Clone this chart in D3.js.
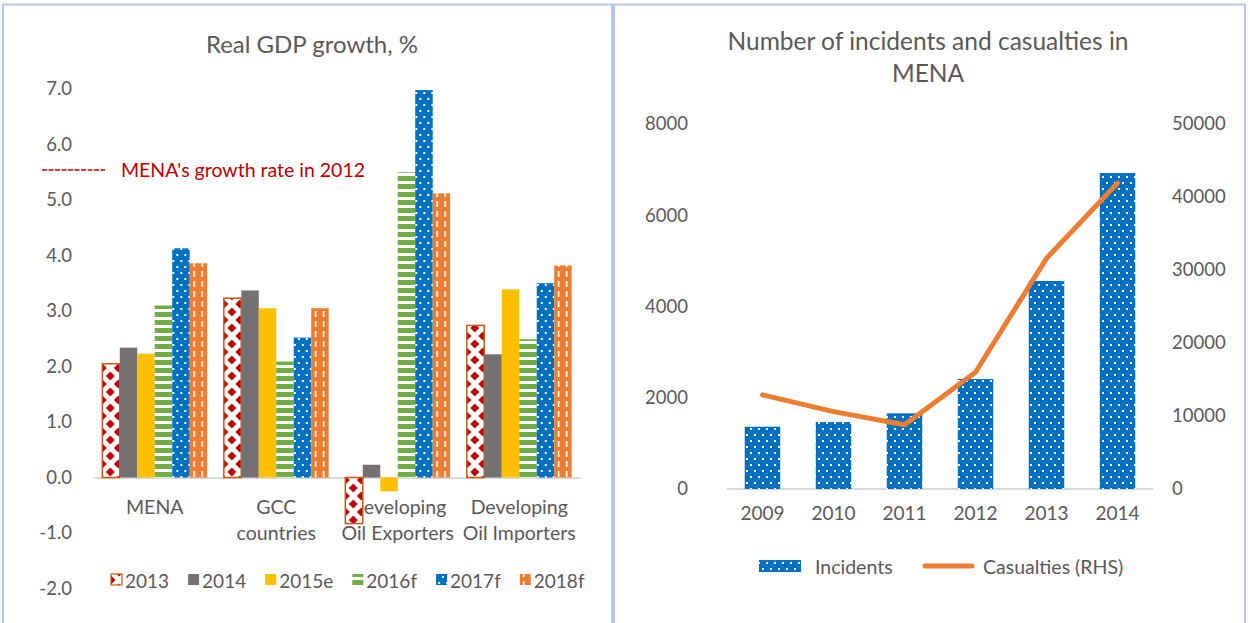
<!DOCTYPE html>
<html>
<head>
<meta charset="utf-8">
<script src="https://cdn.jsdelivr.net/npm/d3@7"></script>
<style>
  body { margin: 0; background: #fff; }
  svg { display: block; }
  text { font-family: Lato, "Open Sans", sans-serif; fill: #595959; }
</style>
</head>
<body>
<svg id="chart" width="1250" height="623"></svg>
<script>
// ---- Real GDP growth (%) ----
const gdpRegions = ["MENA", "GCC countries", "Developing Oil Exporters", "Developing Oil Importers"];
const gdpRegionLines = [["MENA"], ["GCC", "countries"], ["Developing", "Oil Exporters"], ["Developing", "Oil Importers"]];
const gdpYears = ["2013", "2014", "2015e", "2016f", "2017f", "2018f"];
const gdp2013 = [2.05, 3.23, -0.83, 2.74];
const gdp2014 = [2.34, 3.37, 0.23, 2.22];
const gdp2015e = [2.23, 3.05, -0.25, 3.39];
const gdp2016f = [3.10, 2.09, 5.50, 2.49];
const gdp2017f = [4.13, 2.52, 6.98, 3.50];
const gdp2018f = [3.86, 3.05, 5.12, 3.82];
const gdpTicks = [-2, -1, 0, 1, 2, 3, 4, 5, 6, 7];

// ---- Incidents and casualties in MENA ----
const conflictYears = ["2009", "2010", "2011", "2012", "2013", "2014"];
const incidents = [1365, 1468, 1658, 2410, 4560, 6925];
const casualties = [12900, 10600, 8800, 16000, 31600, 41900];
const incidentTicks = [0, 2000, 4000, 6000, 8000];
const casualtyTicks = [0, 10000, 20000, 30000, 40000, 50000];

const svg = d3.select("#chart");
const defs = svg.append("defs");

// Fill patterns
function pattern(id, w, h, bg, draw) {
  const p = defs.append("pattern").attr("id", id)
    .attr("patternUnits", "userSpaceOnUse").attr("width", w).attr("height", h);
  p.append("rect").attr("width", w).attr("height", h).attr("fill", bg);
  draw(p);
}
// red diamond lattice on white
pattern("pDiamond", 16, 16, "#fff", p => {
  const d = (cx, cy) => `M${cx},${cy - 4.5}L${cx + 4.5},${cy}L${cx},${cy + 4.5}L${cx - 4.5},${cy}Z`;
  [[8, 8], [0, 0], [16, 0], [0, 16], [16, 16]].forEach(([cx, cy]) =>
    p.append("path").attr("d", d(cx, cy)).attr("fill", "#c00000"));
});
// green horizontal stripes
pattern("pStripe", 8, 8, "#fff", p => {
  p.append("rect").attr("y", 0).attr("width", 8).attr("height", 5).attr("fill", "#70ad47");
});
// blue with white dots
pattern("pDots", 8, 12, "#0070c0", p => {
  p.append("rect").attr("x", 2).attr("y", 2).attr("width", 2).attr("height", 2).attr("fill", "#fff");
  p.append("rect").attr("x", 6).attr("y", 8).attr("width", 2).attr("height", 2).attr("fill", "#fff");
});
// orange with white dashes
pattern("pDash", 8, 10, "#ed7d31", p => {
  p.append("rect").attr("x", 3).attr("y", 1).attr("width", 1.6).attr("height", 6).attr("fill", "#fff");
});

const yearFill = {
  "2013": "url(#pDiamond)", "2014": "#767171", "2015e": "#ffc000",
  "2016f": "url(#pStripe)", "2017f": "url(#pDots)", "2018f": "url(#pDash)"
};

// Panel frames
const frame = "#b4c7e7";
svg.append("rect").attr("x", 3).attr("y", 4.5).attr("width", 609).attr("height", 640)
  .attr("fill", "none").attr("stroke", frame).attr("stroke-width", 2);
svg.append("rect").attr("x", 614).attr("y", 4.5).attr("width", 631).attr("height", 640)
  .attr("fill", "none").attr("stroke", frame).attr("stroke-width", 2);

// ================= Left chart =================
const left = svg.append("g");
left.append("text").attr("x", 312).attr("y", 43).attr("text-anchor", "middle")
  .attr("dominant-baseline", "central").style("font-size", "24px").text("Real GDP growth, %");

const x0 = d3.scaleBand().domain(gdpRegions).range([94, 580]).paddingInner(0.137).paddingOuter(0.0685);
const x1 = d3.scaleBand().domain(gdpYears).range([0, x0.bandwidth()]);
const y = d3.scaleLinear().domain([-2, 7]).range([588.5, 89]);

const yAxis = left.append("g").attr("transform", "translate(94,0)")
  .call(d3.axisLeft(y).tickValues(gdpTicks).tickSize(0).tickPadding(22).tickFormat(d => d.toFixed(1)));
yAxis.select(".domain").remove();
yAxis.selectAll("text").style("font-size", "18.5px").attr("fill", "#595959");

const xAxis = left.append("g").attr("transform", `translate(0,${y(0)})`)
  .call(d3.axisBottom(x0).tickSize(0).tickFormat(""));
xAxis.select(".domain").attr("stroke", "#d9d9d9").attr("stroke-width", 2);
xAxis.selectAll(".tick").each(function (d, i) {
  const t = d3.select(this).append("text").attr("fill", "#595959")
    .attr("text-anchor", "middle").style("font-size", "19.5px");
  gdpRegionLines[i].forEach((line, k) =>
    t.append("tspan").attr("x", 0).attr("y", 29 + k * 26).attr("dominant-baseline", "central").text(line));
});

const gdpSeries = [gdp2013, gdp2014, gdp2015e, gdp2016f, gdp2017f, gdp2018f];
const groups = left.append("g").selectAll("g").data(gdpRegions).join("g")
  .attr("transform", d => `translate(${x0(d)},0)`);
groups.selectAll("rect")
  .data((region, ri) => gdpYears.map((yr, si) => ({ yr, v: gdpSeries[si][ri] })))
  .join("rect")
  .attr("x", d => x1(d.yr))
  .attr("width", x1.bandwidth())
  .attr("y", d => y(Math.max(0, d.v)))
  .attr("height", d => Math.abs(y(d.v) - y(0)))
  .attr("fill", d => yearFill[d.yr])
  .attr("stroke", d => d.yr === "2013" ? "#c55a11" : "none")
  .attr("stroke-width", 1.5);

// 2012 reference annotation
left.append("line").attr("x1", 42).attr("x2", 105).attr("y1", 170).attr("y2", 170)
  .attr("stroke", "#c00000").attr("stroke-width", 1.5).attr("stroke-dasharray", "5,1.5");
left.append("text").attr("x", 121).attr("y", 169).attr("dominant-baseline", "central")
  .style("font-size", "19.5px").style("fill", "#c00000")
  .text("MENA's growth rate in 2012");

// Legend
const legL = left.append("g").attr("transform", "translate(111,580)");
let lx = 0;
gdpYears.forEach(yr => {
  const item = legL.append("g").attr("transform", `translate(${lx},0)`);
  item.append("rect").attr("x", 0).attr("y", -6).attr("width", 11).attr("height", 11)
    .attr("fill", yearFill[yr]).attr("stroke", yr === "2013" ? "#c55a11" : "none").attr("stroke-width", 1.2);
  const t = item.append("text").attr("x", 14).attr("y", 0).attr("dominant-baseline", "central")
    .style("font-size", "19px").text(yr);
  lx += 14 + t.node().getComputedTextLength() + 19;
});

// ================= Right chart =================
const right = svg.append("g");
right.append("text").attr("x", 928).attr("y", 40).attr("text-anchor", "middle")
  .attr("dominant-baseline", "central").style("font-size", "24.5px").text("Number of incidents and casualties in");
right.append("text").attr("x", 928).attr("y", 72).attr("text-anchor", "middle")
  .attr("dominant-baseline", "central").style("font-size", "24.5px").text("MENA");

const xb = d3.scaleBand().domain(conflictYears).range([727, 1153]).paddingInner(0.5).paddingOuter(0.25);
const yL = d3.scaleLinear().domain([0, 8000]).range([489, 124]);
const yR = d3.scaleLinear().domain([0, 50000]).range([489, 124]);

const axL = right.append("g").attr("transform", "translate(727,0)")
  .call(d3.axisLeft(yL).tickValues(incidentTicks).tickSize(0).tickPadding(39).tickFormat(d3.format("d")));
axL.select(".domain").remove();
axL.selectAll("text").style("font-size", "18.5px").attr("fill", "#595959");

const axR = right.append("g").attr("transform", "translate(1153,0)")
  .call(d3.axisRight(yR).tickValues(casualtyTicks).tickSize(0).tickPadding(19).tickFormat(d3.format("d")));
axR.select(".domain").remove();
axR.selectAll("text").style("font-size", "18.5px").attr("fill", "#595959");

const axB = right.append("g").attr("transform", "translate(0,489)")
  .call(d3.axisBottom(xb).tickSize(0).tickPadding(18).tickSizeOuter(0));
axB.select(".domain").attr("stroke", "#d9d9d9").attr("stroke-width", 2);
axB.selectAll("text").style("font-size", "19px").attr("fill", "#595959");
axB.select(".domain").attr("d", "M727,0H1153");

right.append("g").selectAll("rect").data(conflictYears).join("rect")
  .attr("x", d => xb(d)).attr("width", xb.bandwidth())
  .attr("y", (d, i) => yL(incidents[i])).attr("height", (d, i) => yL(0) - yL(incidents[i]))
  .attr("fill", "url(#pDots)");

const line = d3.line().x((d, i) => xb(conflictYears[i]) + xb.bandwidth() / 2).y(d => yR(d));
right.append("path").datum(casualties).attr("d", line)
  .attr("fill", "none").attr("stroke", "#ed7d31").attr("stroke-width", 5)
  .attr("stroke-linecap", "round").attr("stroke-linejoin", "round");

// Legend
const legR = right.append("g").attr("transform", "translate(0,566)");
legR.append("rect").attr("x", 759).attr("y", -6).attr("width", 42).attr("height", 12).attr("fill", "url(#pDots)");
legR.append("text").attr("x", 815).attr("y", 0).attr("dominant-baseline", "central").style("font-size", "19.5px").text("Incidents");
legR.append("line").attr("x1", 925).attr("x2", 972).attr("y1", 0).attr("y2", 0)
  .attr("stroke", "#ed7d31").attr("stroke-width", 5).attr("stroke-linecap", "round");
legR.append("text").attr("x", 983).attr("y", 0).attr("dominant-baseline", "central").style("font-size", "19.5px").text("Casualties (RHS)");
</script>
</body>
</html>
